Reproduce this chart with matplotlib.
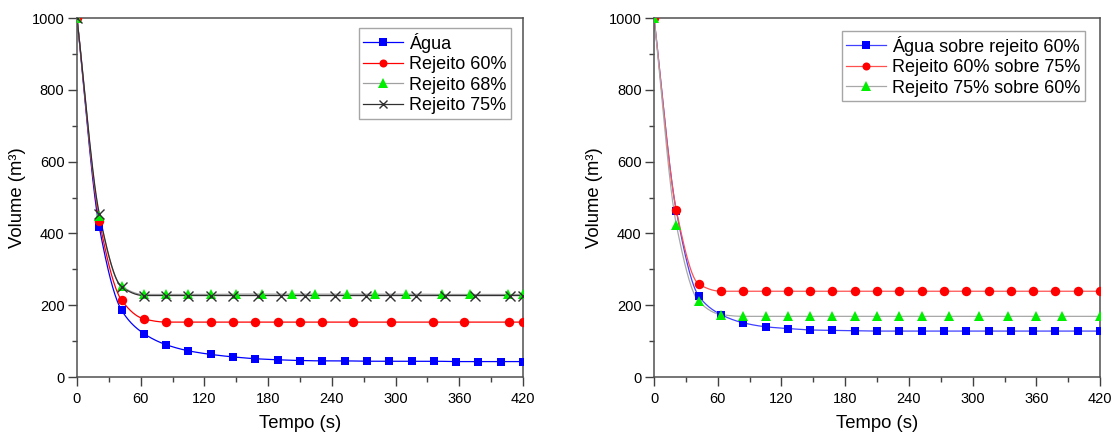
import numpy as np
import matplotlib
matplotlib.use("Agg")
import matplotlib.pyplot as plt
from matplotlib.ticker import MultipleLocator

plt.rcParams["font.family"] = ["Liberation Sans", "DejaVu Sans"]

# ---- Left panel: single materials ----
agua_t = [0, 21, 42, 63, 84, 105, 126, 147, 168, 189, 210, 231, 252, 273, 294, 315, 336, 357, 378, 399, 420]
agua_v = [1000, 418, 186, 121, 90, 73, 63, 56, 51, 48, 46, 45, 45, 44, 44, 44, 44, 43, 43, 43, 43]

rej60_t = [0, 21, 42, 63, 84, 105, 126, 147, 168, 189, 210, 231, 260, 296, 335, 364, 407, 420]
rej60_v = [1000, 436, 214, 162, 153, 153, 153, 153, 153, 153, 153, 153, 153, 153, 153, 153, 153, 153]

rej68_t = [0, 21, 42, 63, 84, 105, 126, 150, 174, 202, 224, 254, 281, 310, 344, 370, 406, 420]
rej68_v = [1000, 450, 253, 230, 230, 230, 230, 231, 231, 231, 231, 231, 231, 231, 230, 230, 230, 230]

rej75_t = [0, 21, 42, 63, 84, 105, 126, 147, 170, 192, 215, 243, 272, 295, 319, 347, 375, 408, 420]
rej75_v = [1000, 455, 251, 227, 227, 227, 227, 227, 227, 227, 227, 227, 227, 227, 227, 227, 227, 227, 227]

# ---- Right panel: layered materials ----
agua_r60_t = [0, 21, 42, 63, 84, 105, 126, 147, 168, 189, 210, 231, 252, 273, 294, 315, 336, 357, 378, 399, 420]
agua_r60_v = [1000, 462, 226, 174, 151, 140, 135, 131, 130, 129, 128, 128, 128, 128, 128, 128, 128, 128, 128, 128, 128]

r60_r75_t = [0, 21, 42, 63, 84, 105, 126, 147, 168, 189, 210, 231, 252, 273, 294, 315, 336, 357, 378, 399, 420]
r60_r75_v = [1000, 464, 259, 239, 239, 239, 239, 239, 239, 239, 239, 239, 239, 239, 239, 239, 239, 239, 239, 239, 239]

r75_r60_t = [0, 21, 42, 63, 84, 105, 126, 147, 168, 189, 210, 231, 252, 278, 306, 333, 360, 384, 420]
r75_r60_v = [1000, 424, 211, 174, 169, 169, 169, 169, 169, 169, 169, 169, 169, 169, 169, 169, 169, 169, 169]

x_ticks = [0, 60, 120, 180, 240, 300, 360, 420]
y_ticks = [0, 200, 400, 600, 800, 1000]


def pchip(x, y, xs):
    """Monotone piecewise cubic Hermite curve through (x, y)."""
    x = np.asarray(x, float)
    y = np.asarray(y, float)
    h = np.diff(x)
    d = np.diff(y) / h
    n = len(x)
    m = np.zeros(n)
    for k in range(1, n - 1):
        if d[k - 1] * d[k] > 0:
            w1 = 2 * h[k] + h[k - 1]
            w2 = h[k] + 2 * h[k - 1]
            m[k] = (w1 + w2) / (w1 / d[k - 1] + w2 / d[k])
    m[0] = d[0]
    m[-1] = d[-1]
    idx = np.clip(np.searchsorted(x, xs) - 1, 0, n - 2)
    t = (xs - x[idx]) / h[idx]
    h00 = 2 * t**3 - 3 * t**2 + 1
    h10 = t**3 - 2 * t**2 + t
    h01 = -2 * t**3 + 3 * t**2
    h11 = t**3 - t**2
    return (h00 * y[idx] + h10 * h[idx] * m[idx]
            + h01 * y[idx + 1] + h11 * h[idx] * m[idx + 1])


def series(ax, t, v, line_color, marker, mcolor, ms, label, mew=0.0, legend_scale=0.85):
    xs = np.linspace(t[0], t[-1], 600)
    ax.plot(xs, pchip(t, v, xs), color=line_color, lw=0.9, zorder=2)
    ax.plot(t, v, linestyle="none", marker=marker, ms=ms,
            markerfacecolor=mcolor, markeredgecolor=mcolor,
            markeredgewidth=mew, zorder=3)
    # legend proxy
    ax.plot([], [], color=line_color, lw=0.9, marker=marker, ms=ms * legend_scale,
            markerfacecolor=mcolor, markeredgecolor=mcolor,
            markeredgewidth=mew, label=label)


def style_axes(ax):
    ax.set_xlim(0, 420)
    ax.set_ylim(0, 1000)
    ax.set_xticks(x_ticks)
    ax.set_yticks(y_ticks)
    ax.xaxis.set_minor_locator(MultipleLocator(30))
    ax.yaxis.set_minor_locator(MultipleLocator(100))
    ax.tick_params(which="major", direction="out", length=6.5, width=1.0,
                   labelsize=10.5, color="#404040")
    ax.tick_params(which="minor", direction="out", length=3.3, width=1.0,
                   color="#404040")
    ax.tick_params(axis="x", which="major", pad=4)
    ax.tick_params(axis="y", which="major", pad=2.5)
    for s in ax.spines.values():
        s.set_color("#505050")
        s.set_linewidth(1.1)
    ax.set_xlabel("Tempo (s)", fontsize=13.3, labelpad=7)
    ax.set_ylabel("Volume (m³)", fontsize=13.3, labelpad=4)


fig = plt.figure(figsize=(11.19, 4.34), dpi=100)
ax1 = fig.add_axes([0.0688, 0.1313, 0.3986, 0.827])
ax2 = fig.add_axes([0.5845, 0.1313, 0.3986, 0.827])

series(ax1, agua_t, agua_v, "#0000ff", "s", "#0000ff", 6.0, "Água")
series(ax1, rej60_t, rej60_v, "#ff0000", "o", "#ff0000", 6.8, "Rejeito 60%")
series(ax1, rej68_t, rej68_v, "#a0a0a0", "^", "#00ee00", 7.2, "Rejeito 68%", legend_scale=1.0)
series(ax1, rej75_t, rej75_v, "#303030", "x", "#303030", 7.0, "Rejeito 75%", mew=1.0)

series(ax2, agua_r60_t, agua_r60_v, "#4040ff", "s", "#0000ff", 6.0, "Água sobre rejeito 60%")
series(ax2, r60_r75_t, r60_r75_v, "#ff5050", "o", "#ff0000", 6.8, "Rejeito 60% sobre 75%")
series(ax2, r75_r60_t, r75_r60_v, "#a8a8a8", "^", "#00ee00", 7.2, "Rejeito 75% sobre 60%", legend_scale=1.0)

# legend upper-right corners, in figure pixels
legend_corners = [(511, 434 - 28), (1085, 434 - 31)]
for ax, (cx, cy) in zip((ax1, ax2), legend_corners):
    style_axes(ax)
    leg = ax.legend(loc="upper right", fontsize=13, frameon=True, fancybox=False,
                    borderpad=0.25, labelspacing=0.2, handlelength=2.2,
                    handletextpad=0.33, borderaxespad=0.0,
                    bbox_to_anchor=(cx / 1119, cy / 434),
                    bbox_transform=fig.transFigure)
    leg.get_frame().set_edgecolor("#909090")
    leg.get_frame().set_linewidth(1.0)

fig.savefig("out.png", dpi=100)
